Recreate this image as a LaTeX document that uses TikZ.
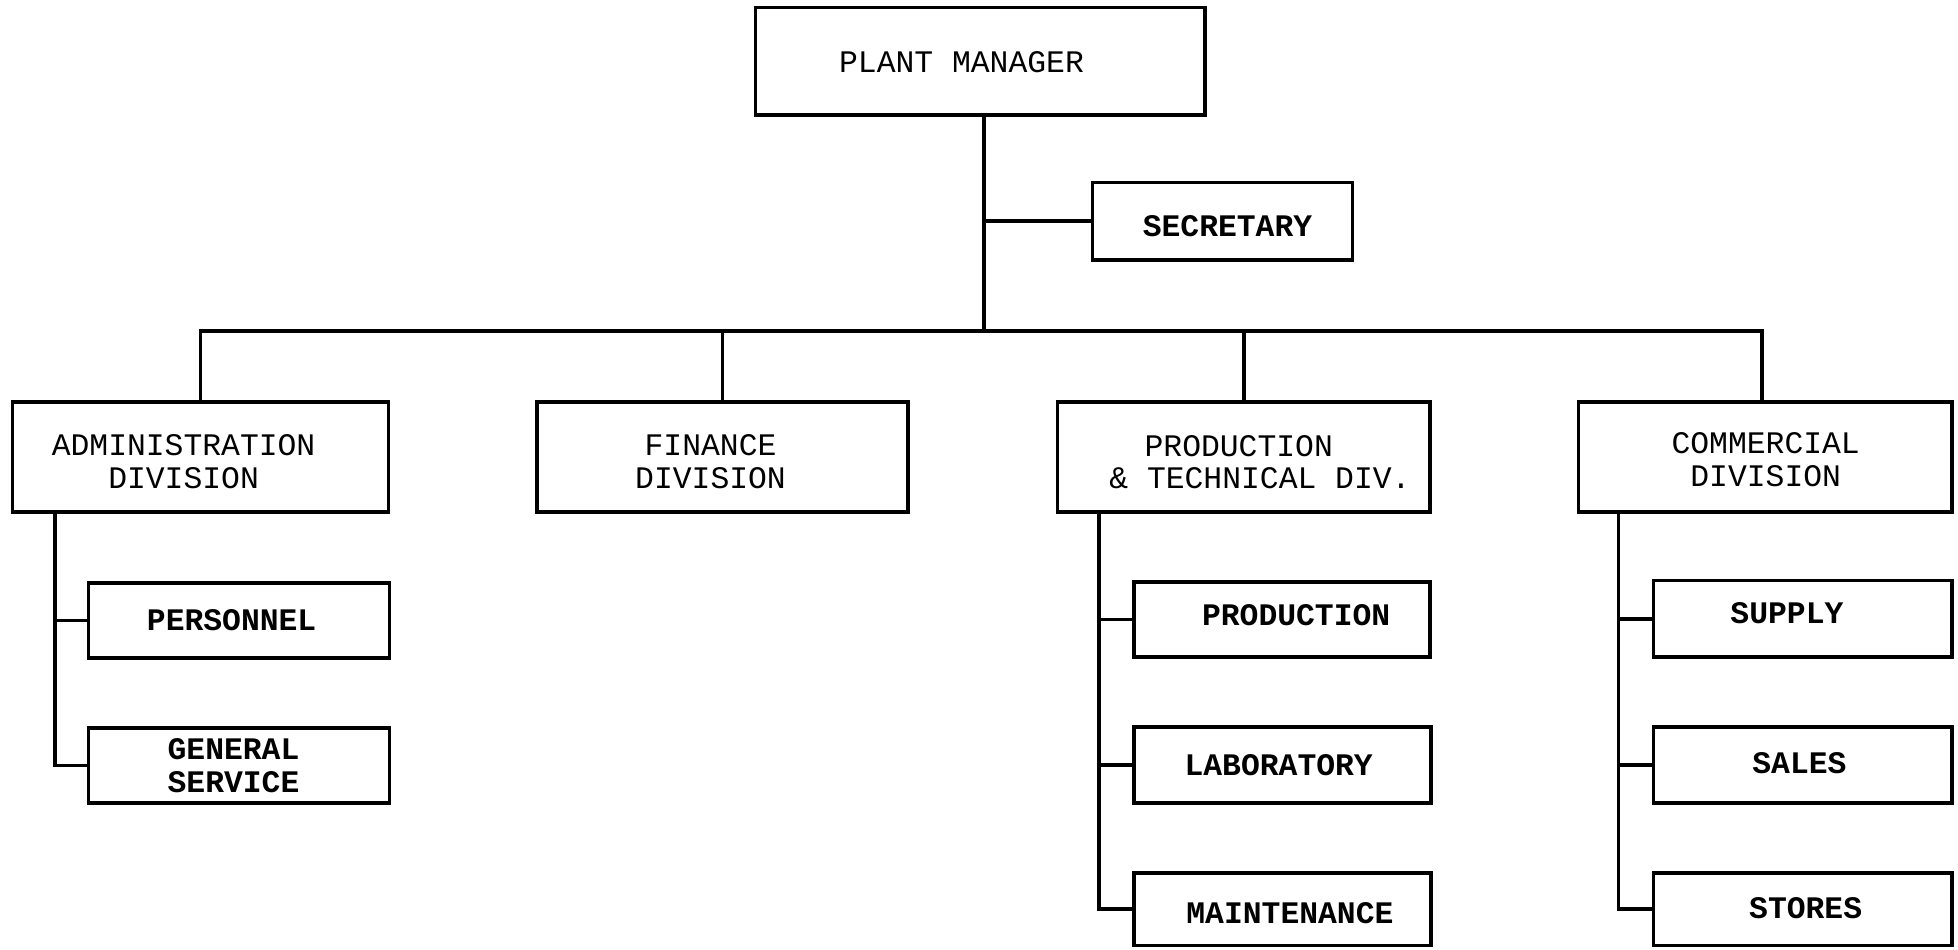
\documentclass[tikz,border=0pt]{standalone}
\usepackage{fontspec}
\setmonofont{Liberation Mono}
\begin{document}
\begin{tikzpicture}[x=0.625pt,y=-0.625pt,
  bx/.style n args={4}{draw, line width=1.8pt, inner sep=0pt,
    minimum width={(#3-#1)*0.625pt}, minimum height={(#4-#2)*0.625pt}},
  tx/.style={inner sep=0pt, align=center, font=\ttfamily\fontsize{15.7}{16.5}\selectfont},
  tb/.style={inner sep=0pt, align=center, font=\ttfamily\bfseries\fontsize{15.7}{16.5}\selectfont},
  ln/.style={line width=1.8pt}]
\useasboundingbox (0,0) rectangle (1568,760);
% top
\node[bx={605}{6}{965}{92}] (pm) at (785,49) {};
\node[tx] (pmT) at (770,50) {PLANT MANAGER};
\node[bx={875}{146}{1083}{208}] (sec) at (979,177) {};
\node[tb] (secT) at (983,181) {SECRETARY};
% divisions
\node[bx={10}{322}{311}{410}] (adm) at (160.5,366) {};
\node[tx] (admT) at (147,370) {ADMINISTRATION\\DIVISION};
\node[bx={430}{322}{727}{410}] (fin) at (578.5,366) {};
\node[tx] (finT) at (569,370) {FINANCE\\DIVISION};
\node[bx={847}{322}{1145}{410}] (prd) at (996,366) {};
\node[tx] (prdT1) at (992,357) {PRODUCTION};
\node[tx] (prdT2) at (1009,383) {\& TECHNICAL DIV.};
\node[bx={1264}{322}{1563}{410}] (com) at (1413.5,366) {};
\node[tx] (comT) at (1414,368) {COMMERCIAL\\DIVISION};
% admin subs
\node[bx={71}{467}{312}{527}] (per) at (191.5,497) {};
\node[tb] (perT) at (185.5,497) {PERSONNEL};
\node[bx={71}{583}{312}{643}] (gen) at (191.5,613) {};
\node[tb] (genT) at (187,613) {GENERAL\\SERVICE};
% production subs
\node[bx={908}{466}{1145}{526}] (pro) at (1026.5,496) {};
\node[tb] (proT) at (1038,493) {PRODUCTION};
\node[bx={908}{582}{1146}{643}] (lab) at (1027,612.5) {};
\node[tb] (labT) at (1024,613) {LABORATORY};
\node[bx={908}{699}{1146}{757}] (mai) at (1027,728) {};
\node[tb] (maiT) at (1033,731) {MAINTENANCE};
% commercial subs
\node[bx={1324}{465}{1563}{526}] (sup) at (1443.5,495.5) {};
\node[tb] (supT) at (1431,491) {SUPPLY};
\node[bx={1324}{582}{1563}{643}] (sal) at (1443.5,612.5) {};
\node[tb] (salT) at (1441,611) {SALES};
\node[bx={1324}{699}{1563}{757}] (sto) at (1443.5,728) {};
\node[tb] (stoT) at (1446,727) {STORES};
% bus
\coordinate (trunk) at (788,92);
\coordinate (busL) at (161,265);
\coordinate (busR) at (1411,265);
\coordinate (aspine) at (44,410);
\coordinate (pspine) at (880,410);
\coordinate (cspine) at (1296,410);
\draw[ln] (trunk) -- (trunk |- busL);
\draw[ln] (trunk |- sec.west) -- (sec.west);
\draw[ln,line cap=rect] (busL) -- (busR);
\draw[ln] (adm.north) -- (adm.north |- busL);
\draw[ln] (fin.north) -- (fin.north |- busL);
\draw[ln] (prd.north) -- (prd.north |- busL);
\draw[ln] (com.north -| busR) -- (busR);
% spines
\draw[ln,line join=miter] (aspine) -- (aspine |- gen.west) -- (gen.west);
\draw[ln] (aspine |- per.west) -- (per.west);
\draw[ln,line join=miter] (pspine) -- (pspine |- mai.west) -- (mai.west);
\draw[ln] (pspine |- pro.west) -- (pro.west);
\draw[ln] (pspine |- lab.west) -- (lab.west);
\draw[ln,line join=miter] (cspine) -- (cspine |- sto.west) -- (sto.west);
\draw[ln] (cspine |- sup.west) -- (sup.west);
\draw[ln] (cspine |- sal.west) -- (sal.west);
\end{tikzpicture}
\end{document}
